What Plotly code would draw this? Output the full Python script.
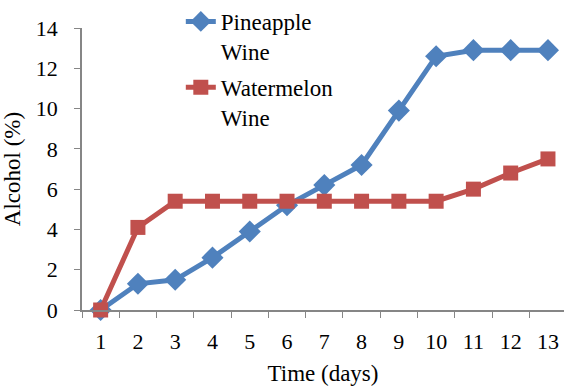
import plotly.graph_objects as go

days = list(range(1, 14))
day_labels = [str(d) for d in days]
pineapple = [0, 1.3, 1.5, 2.6, 3.9, 5.2, 6.2, 7.2, 9.9, 12.6, 12.9, 12.9, 12.9]
watermelon = [0, 4.1, 5.4, 5.4, 5.4, 5.4, 5.4, 5.4, 5.4, 5.4, 6.0, 6.8, 7.5]

BLUE = "#4F81BD"
RED = "#C0504D"
FONT = "Liberation Serif"

fig = go.Figure()
fig.add_trace(go.Scatter(
    x=days, y=pineapple, name="Pineapple<br>Wine", mode="lines+markers",
    legendgroup="p",
    line=dict(color=BLUE, width=5),
    marker=dict(symbol="diamond", size=17, color=BLUE),
    cliponaxis=False,
))
fig.add_trace(go.Scatter(
    x=days, y=watermelon, name="Watermelon<br>Wine", mode="lines+markers",
    legendgroup="w",
    line=dict(color=RED, width=5),
    marker=dict(symbol="square", size=15, color=RED),
    cliponaxis=False,
))

fig.update_layout(
    width=564, height=387,
    margin=dict(l=82, r=0, t=26, b=77),
    paper_bgcolor="white", plot_bgcolor="white",
    font=dict(family=FONT, size=22, color="black"),
    showlegend=True,
    legend=dict(x=0.205, y=1.1, xanchor="left", yanchor="top",
                bgcolor="rgba(0,0,0,0)", font=dict(family=FONT, size=23),
                tracegroupgap=3, valign="top"),
)
fig.update_xaxes(
    range=[0.5, 13.43], tickmode="array", tickvals=days, ticktext=day_labels,
    ticks="", showgrid=False, zeroline=False,
    showline=True, linecolor="#868686", linewidth=1.5,
    minor=dict(tickmode="linear", tick0=0.5, dtick=1, ticks="outside",
               ticklen=6, tickcolor="#868686", showgrid=False),
    ticklabelstandoff=11,
    title=dict(text="Time (days)", font=dict(family=FONT, size=23), standoff=12),
    tickfont=dict(family=FONT, size=22),
)
fig.update_yaxes(
    range=[0, 14], tickmode="linear", tick0=0, dtick=2,
    ticks="outside", ticklen=6, tickcolor="#868686",
    showgrid=False, zeroline=False,
    showline=True, linecolor="#868686", linewidth=1.5,
    ticklabelstandoff=12,
    title=dict(text="Alcohol (%)", font=dict(family=FONT, size=23), standoff=10),
    tickfont=dict(family=FONT, size=22),
)

fig.write_html("out.html")
